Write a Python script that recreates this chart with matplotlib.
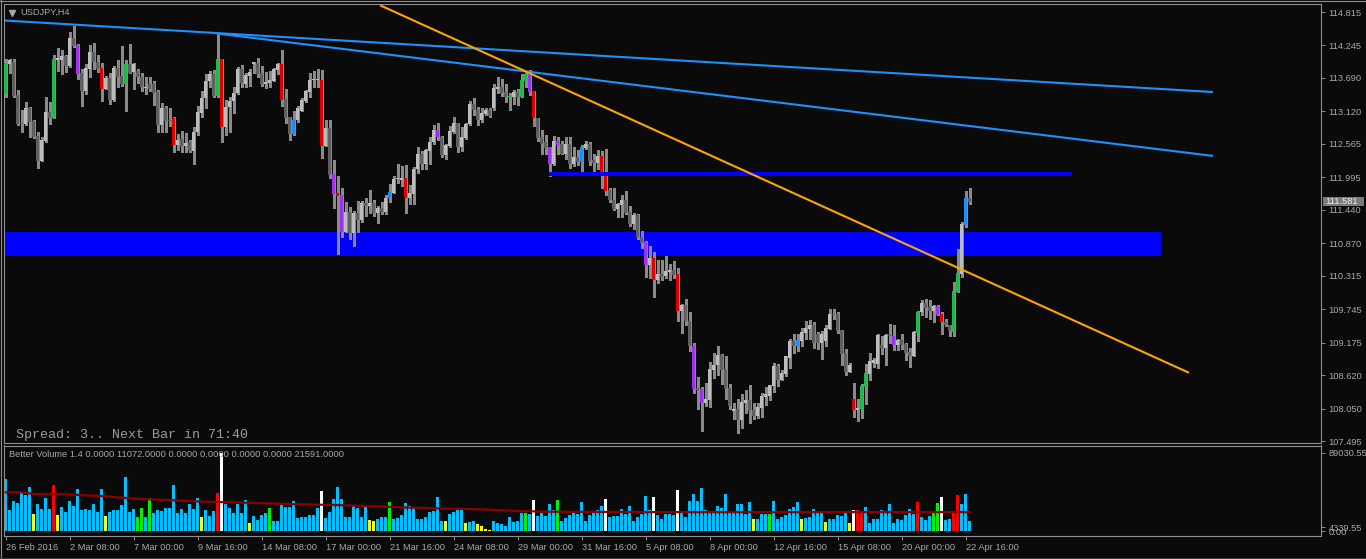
import matplotlib
matplotlib.use("Agg")
import matplotlib.pyplot as plt
from matplotlib.patches import Rectangle
from matplotlib.lines import Line2D
import numpy as np

plt.rcParams['font.family'] = ['Liberation Sans', 'DejaVu Sans']

# ---------------- data ----------------
symbol = "USDJPY,H4"
open_ = [
    113.42, 113.92, 113.96, 113.40, 112.92, 112.90, 113.18, 112.95, 112.70, 112.28,
    112.62, 113.11, 113.01, 114.00, 114.00, 114.06, 113.89, 114.37, 114.25, 113.78,
    113.47, 113.85, 114.13, 113.97, 113.86, 113.51, 113.69, 113.31, 113.86, 113.72,
    113.58, 113.93, 113.79, 113.81, 113.71, 113.52, 113.59, 113.59, 113.45, 112.89,
    113.17, 112.97, 113.00, 112.55, 112.65, 112.53, 112.59, 112.45, 112.76, 113.10,
    113.34, 113.63, 113.76, 113.38, 114.01, 112.85, 113.19, 113.29, 113.43, 113.85,
    113.59, 113.72, 113.93, 113.95, 113.78, 113.59, 113.61, 113.64, 113.83, 113.93,
    113.33, 113.02, 112.73, 112.97, 113.13, 113.29, 113.45, 113.66, 113.66, 113.66,
    112.53, 112.84, 112.05, 111.72, 111.70, 111.07, 111.40, 111.05, 111.38, 111.27,
    111.56, 111.50, 111.56, 111.39, 111.47, 111.40, 111.64, 111.73, 111.96, 111.95,
    111.99, 111.64, 111.71, 112.13, 112.39, 112.22, 112.45, 112.59, 112.81, 112.69,
    112.38, 112.53, 112.77, 112.92, 112.52, 112.67, 112.91, 113.25, 113.15, 112.97,
    113.07, 113.14, 113.18, 113.51, 113.54, 113.45, 113.36, 113.36, 113.45, 113.37,
    113.64, 113.75, 113.46, 113.01, 112.68, 112.60, 112.51, 112.22, 112.61, 112.56,
    112.40, 112.57, 112.22, 112.35, 112.26, 112.50, 112.57, 112.29, 112.24, 112.36,
    112.06, 111.78, 111.61, 111.46, 111.53, 111.60, 111.40, 111.19, 111.36, 110.98,
    110.89, 110.50, 110.61, 110.25, 110.35, 110.31, 110.38, 110.41, 110.35, 109.72,
    109.81, 109.54, 109.12, 108.40, 108.38, 108.15, 108.20, 108.71, 108.79, 108.96,
    108.73, 108.40, 108.00, 108.05, 107.85, 108.15, 108.20, 108.02, 107.93, 108.06,
    108.25, 108.26, 108.43, 108.78, 108.54, 108.64, 108.91, 109.20, 109.12, 109.21,
    109.34, 109.41, 109.47, 109.32, 109.17, 109.21, 109.41, 109.66, 109.66, 109.39,
    109.00, 108.67, 108.22, 108.02, 108.05, 108.42, 108.64, 108.83, 108.81, 109.14,
    109.08, 109.31, 109.29, 109.14, 109.22, 109.15, 109.02, 108.95, 109.34, 109.69,
    109.85, 109.79, 109.72, 109.80, 109.66, 109.53, 109.48, 109.36, 110.04, 110.35,
    111.18, 111.65]
high = [
    114.01, 114.01, 114.01, 113.49, 113.14, 113.28, 113.19, 112.97, 112.76, 112.68,
    113.36, 113.28, 114.09, 114.20, 114.17, 114.09, 114.47, 114.58, 114.27, 113.84,
    113.93, 114.25, 114.28, 114.09, 113.95, 113.72, 113.77, 113.89, 113.99, 114.24,
    114.00, 114.27, 113.95, 113.85, 113.77, 113.70, 113.70, 113.63, 113.49, 113.26,
    113.22, 113.17, 113.02, 112.73, 112.79, 112.75, 112.63, 112.86, 113.21, 113.47,
    113.76, 113.81, 113.83, 114.45, 114.02, 113.31, 113.37, 113.54, 113.88, 113.91,
    113.77, 113.85, 113.96, 114.03, 113.89, 113.80, 113.81, 113.86, 113.95, 114.17,
    113.50, 113.03, 113.13, 113.21, 113.34, 113.49, 113.78, 113.81, 113.85, 113.83,
    112.97, 112.97, 112.29, 112.02, 111.81, 111.57, 111.48, 111.42, 111.59, 111.59,
    111.64, 111.78, 111.61, 111.50, 111.57, 111.70, 111.88, 112.01, 112.22, 112.19,
    112.20, 111.86, 112.17, 112.51, 112.44, 112.48, 112.69, 112.89, 112.92, 112.70,
    112.57, 112.87, 113.02, 112.92, 112.85, 112.92, 113.30, 113.35, 113.20, 113.17,
    113.17, 113.18, 113.58, 113.71, 113.68, 113.58, 113.43, 113.48, 113.51, 113.75,
    113.77, 113.83, 113.46, 113.01, 112.81, 112.71, 112.51, 112.70, 112.68, 112.61,
    112.68, 112.68, 112.51, 112.46, 112.54, 112.62, 112.59, 112.40, 112.46, 112.45,
    112.48, 111.81, 111.81, 111.55, 111.70, 111.77, 111.50, 111.39, 111.37, 111.08,
    110.90, 110.82, 110.72, 110.58, 110.58, 110.65, 110.52, 110.56, 110.44, 109.84,
    109.92, 109.70, 109.16, 108.59, 108.42, 108.48, 108.85, 109.00, 109.12, 108.98,
    108.94, 108.47, 108.14, 108.21, 108.30, 108.37, 108.46, 108.15, 108.15, 108.31,
    108.42, 108.46, 108.82, 108.81, 108.71, 108.95, 109.24, 109.32, 109.32, 109.42,
    109.54, 109.56, 109.53, 109.36, 109.38, 109.48, 109.74, 109.74, 109.69, 109.39,
    109.06, 108.83, 108.48, 108.22, 108.47, 108.81, 108.99, 108.91, 109.33, 109.28,
    109.33, 109.50, 109.47, 109.24, 109.33, 109.16, 109.08, 109.38, 109.71, 109.90,
    109.92, 109.90, 109.81, 109.81, 109.70, 109.58, 109.48, 110.21, 110.77, 111.24,
    111.77, 111.82]
low = [
    113.36, 113.77, 113.36, 112.89, 112.77, 112.89, 112.68, 112.66, 112.16, 112.27,
    112.60, 112.90, 113.01, 113.81, 113.75, 113.79, 113.88, 114.22, 113.68, 113.21,
    113.42, 113.71, 113.85, 113.79, 113.30, 113.50, 113.25, 113.29, 113.54, 113.56,
    113.13, 113.77, 113.51, 113.61, 113.47, 113.41, 113.46, 113.23, 112.77, 112.76,
    112.77, 112.87, 112.43, 112.46, 112.42, 112.43, 112.43, 112.23, 112.71, 113.03,
    113.17, 113.54, 113.36, 113.36, 112.60, 112.71, 112.77, 113.10, 113.42, 113.54,
    113.54, 113.56, 113.77, 113.71, 113.55, 113.52, 113.54, 113.63, 113.75, 113.21,
    112.93, 112.63, 112.72, 112.94, 113.12, 113.28, 113.36, 113.54, 113.54, 112.32,
    112.53, 111.98, 111.47, 110.68, 110.98, 111.07, 110.95, 110.82, 111.06, 111.24,
    111.34, 111.38, 111.34, 111.22, 111.37, 111.37, 111.57, 111.72, 111.90, 111.84,
    111.39, 111.54, 111.54, 112.07, 112.14, 112.14, 112.22, 112.57, 112.63, 112.35,
    112.30, 112.52, 112.75, 112.42, 112.44, 112.65, 112.89, 113.05, 112.89, 112.94,
    113.05, 113.03, 113.14, 113.44, 113.39, 113.28, 113.14, 113.25, 113.23, 113.36,
    113.54, 113.40, 112.87, 112.62, 112.40, 112.39, 112.02, 112.21, 112.39, 112.39,
    112.30, 112.15, 112.19, 112.20, 112.10, 112.47, 112.21, 112.06, 112.14, 111.81,
    111.69, 111.58, 111.43, 111.32, 111.32, 111.37, 111.16, 111.11, 110.94, 110.79,
    110.30, 110.27, 109.96, 110.19, 110.24, 110.27, 110.25, 110.28, 109.55, 109.34,
    109.48, 109.03, 108.31, 108.04, 107.67, 108.10, 108.08, 108.57, 108.63, 108.47,
    108.22, 108.04, 107.88, 107.64, 107.71, 107.97, 107.80, 107.88, 107.89, 107.90,
    108.11, 108.20, 108.33, 108.43, 108.53, 108.61, 108.75, 109.00, 109.04, 109.11,
    109.24, 109.24, 109.08, 109.06, 108.90, 109.11, 109.40, 109.58, 109.34, 108.80,
    108.62, 108.67, 107.91, 107.84, 107.89, 108.13, 108.53, 108.76, 108.74, 108.98,
    108.79, 109.16, 109.05, 109.05, 109.06, 108.88, 108.76, 108.94, 109.21, 109.64,
    109.62, 109.58, 109.52, 109.64, 109.33, 109.45, 109.28, 109.29, 110.04, 110.29,
    111.14, 111.54]
close = [
    113.95, 114.00, 113.38, 112.90, 112.91, 113.18, 112.94, 112.69, 112.28, 112.63,
    113.11, 113.01, 114.01, 114.03, 114.06, 113.89, 114.37, 114.24, 113.76, 113.47,
    113.86, 114.13, 113.96, 113.84, 113.51, 113.69, 113.31, 113.86, 113.71, 113.58,
    113.93, 113.78, 113.93, 113.70, 113.53, 113.53, 113.51, 113.44, 112.89, 113.17,
    112.96, 112.96, 112.55, 112.63, 112.53, 112.58, 112.45, 112.77, 113.11, 113.35,
    113.64, 113.76, 113.38, 114.01, 112.85, 113.19, 113.30, 113.43, 113.85, 113.60,
    113.74, 113.80, 113.96, 113.76, 113.59, 113.62, 113.66, 113.84, 113.93, 113.31,
    113.01, 112.73, 112.98, 113.18, 113.31, 113.47, 113.66, 113.66, 113.66, 112.53,
    112.84, 112.04, 111.71, 111.68, 111.07, 111.40, 111.04, 111.38, 111.27, 111.56,
    111.50, 111.56, 111.39, 111.47, 111.40, 111.65, 111.74, 111.96, 111.96, 111.99,
    111.64, 111.72, 112.14, 112.39, 112.22, 112.46, 112.60, 112.80, 112.69, 112.38,
    112.54, 112.79, 112.92, 112.52, 112.68, 112.91, 113.25, 113.14, 112.97, 113.10,
    113.14, 113.04, 113.52, 113.54, 113.44, 113.36, 113.37, 113.45, 113.37, 113.65,
    113.75, 113.45, 113.00, 112.67, 112.57, 112.50, 112.22, 112.61, 112.55, 112.40,
    112.57, 112.22, 112.34, 112.26, 112.51, 112.57, 112.28, 112.24, 112.36, 112.06,
    111.77, 111.61, 111.46, 111.54, 111.60, 111.39, 111.19, 111.36, 110.97, 110.88,
    110.50, 110.61, 110.25, 110.35, 110.30, 110.40, 110.41, 110.33, 109.72, 109.81,
    109.54, 109.11, 108.39, 108.37, 108.15, 108.21, 108.72, 108.80, 108.96, 108.71,
    108.39, 108.09, 108.05, 107.85, 108.16, 108.20, 108.01, 107.93, 108.07, 108.26,
    108.29, 108.46, 108.78, 108.54, 108.66, 108.94, 109.20, 109.12, 109.22, 109.36,
    109.42, 109.47, 109.17, 109.17, 109.32, 109.42, 109.66, 109.64, 109.38, 108.98,
    108.67, 108.79, 108.02, 108.06, 108.43, 108.65, 108.86, 108.87, 109.30, 109.08,
    109.31, 109.28, 109.14, 109.22, 109.14, 109.00, 108.95, 109.36, 109.70, 109.85,
    109.77, 109.72, 109.80, 109.65, 109.52, 109.47, 109.37, 110.05, 110.36, 111.20,
    111.65, 111.58]
volume = [
    58950, 23580, 33850, 31560, 44500, 41070, 49820, 19020, 30420, 24720,
    38030, 24720, 52100, 17870, 27000, 21300, 33850, 28140, 47540, 23960,
    24720, 23580, 30420, 21680, 47540, 16730, 22060, 23580, 23580, 29280,
    61230, 21300, 25100, 15590, 25860, 15590, 37270, 20160, 23580, 22440,
    25860, 26620, 52100, 20540, 24720, 20540, 30800, 25480, 37270, 15590,
    23580, 16730, 22820, 42970, 89030, 30420, 26620, 20540, 30420, 20540,
    34990, 8750, 16730, 12170, 18250, 20540, 26620, 11410, 11410, 29280,
    27000, 27000, 33850, 14450, 15590, 15590, 17870, 17870, 25860, 45260,
    14450, 21300, 36130, 49820, 36130, 15590, 15590, 28900, 25860, 16350,
    27000, 12170, 11030, 13310, 15970, 15590, 32710, 13310, 14450, 17870,
    31560, 28140, 26620, 13310, 13310, 15590, 21300, 22440, 38410, 11030,
    11030, 19780, 21680, 23960, 23960, 9130, 10270, 11030, 7610, 5320,
    2280, 760, 11030, 8750, 7610, 5320, 15590, 9890, 11030, 20160,
    20160, 19020, 34990, 17110, 20160, 16730, 30420, 24340, 34990, 11030,
    14450, 17870, 20160, 19400, 32710, 11030, 17870, 20160, 23580, 28140,
    36130, 15590, 16730, 16730, 24720, 19020, 28140, 11030, 15590, 19020,
    39550, 23580, 38410, 17870, 13310, 19020, 19020, 17870, 46400, 22440,
    15590, 33850, 41830, 33850, 48680, 23580, 21300, 21300, 28140, 25860,
    41830, 21300, 20160, 30420, 30420, 19020, 32710, 13310, 13310, 19020,
    19020, 19020, 33850, 13310, 15590, 17870, 24720, 27000, 32710, 13310,
    14450, 15590, 24720, 20160, 20160, 9890, 13310, 13310, 17870, 16730,
    22440, 8750, 23580, 23580, 22820, 27000, 8750, 13310, 13310, 23580,
    20160, 30420, 8750, 13310, 12170, 17870, 24720, 19020, 32710, 15590,
    12170, 16730, 21300, 31560, 38410, 12170, 13310, 21300, 40690, 30420,
    41830, 11072]

# candles highlighted by the indicator
candle_green = [0, 12, 30, 53, 126, 129, 130, 214, 215, 228, 237, 238]
candle_red = [24, 42, 54, 69, 79, 83, 100, 132, 149, 150, 162, 168, 212, 234]
candle_purple = [18, 82, 84, 108, 131, 136, 138, 160, 172, 174, 222, 233]
candle_blue = [72, 96, 144, 198, 240]

# volume bar classes
vol_yellow = [7, 13, 25, 49, 61, 91, 92, 110, 115, 118, 119, 120, 121, 187, 199, 205, 211]
vol_green = [33, 34, 36, 66, 96, 130, 138, 191, 232, 233]
vol_red = [12, 53, 213, 214, 228, 237, 238]
vol_white = [54, 79, 132, 150, 162, 168, 212, 234]

# volume moving average (bar, value)
ma_bar = [0, 4, 7, 13, 24, 32, 40, 49, 57, 65, 74, 82, 90, 99, 107, 119, 128, 136, 161, 186, 211, 241]
ma_val = [44160, 44160, 42200, 42200, 39900, 36900, 35400, 33500, 32700, 31600, 30400,
          29700, 28500, 27000, 25900, 24700, 22800, 22000, 21600, 21600, 21600, 21591]

# drawn objects (bar index, price)
trend_blue1 = [(-0.2, 114.67), (301.8, 113.45)]
trend_blue2 = [(52.7, 114.45), (301.8, 112.36)]
trend_orange = [(93.6, 114.93), (295.8, 108.66)]
level_line = (135.8, 266.6, 112.02, 112.085)
zone = (-0.2, 288.8, 110.66, 111.06)

price_ticks = [114.815, 114.245, 113.690, 113.120, 112.565, 111.995, 111.440,
               110.870, 110.315, 109.745, 109.175, 108.620, 108.050, 107.495]
time_tick_bars = [0, 16, 32, 48, 64, 80, 96, 112, 128, 144, 160, 176, 192, 208, 224, 240]
time_tick_labels = ["26 Feb 2016", "2 Mar 08:00", "7 Mar 00:00", "9 Mar 16:00",
                    "14 Mar 08:00", "17 Mar 00:00", "21 Mar 16:00", "24 Mar 08:00",
                    "29 Mar 00:00", "31 Mar 16:00", "5 Apr 08:00", "8 Apr 00:00",
                    "12 Apr 16:00", "15 Apr 08:00", "20 Apr 00:00", "22 Apr 16:00"]
last_price = 111.581
vol_labels = [(0.0, "0.00"), (4339.55, "4339.55"), (89030.55, "89030.55")]
info_text = "Better Volume 1.4 0.0000 11072.0000 0.0000 0.0000 0.0000 0.0000 21591.0000"
spread_text = "Spread: 3.. Next Bar in 71:40"

# ---------------- style ----------------
BG = '#0a0a0a'
FRAME = '#8f8f8f'
TXT = '#a8a8a8'
LIGHT = '#bcbcbc'
DARK = '#5f5f5f'
WICK = '#8a8a8a'
W, H = 1366, 559


def fx(x):
    return x / W


def fy(y):
    return 1 - y / H


fig = plt.figure(figsize=(W / 100, H / 100), dpi=100)
fig.patch.set_facecolor(BG)

ax = fig.add_axes([fx(4), fy(443), (1321 - 4) / W, (443 - 4) / H])
axv = fig.add_axes([fx(4), fy(536), (1321 - 4) / W, (536 - 445.5) / H])

for a in (ax, axv):
    a.set_facecolor(BG)
    for s in a.spines.values():
        s.set_color(FRAME)
        s.set_linewidth(0.8)

n = len(close)
idx = np.arange(n)
o = np.array(open_)
c = np.array(close)
hi = np.array(high)
lo = np.array(low)

ax.set_xlim(-0.43, 328.8)
ax.set_ylim(107.462, 114.952)

# zone rectangle (behind candles)
ax.add_patch(Rectangle((zone[0], zone[2]), zone[1] - zone[0], zone[3] - zone[2],
                       facecolor='#0000ff', edgecolor='none', zorder=1, antialiased=False))

special = {}
for k in candle_green:
    special[k] = '#1fb84a'
for k in candle_red:
    special[k] = '#e00000'
for k in candle_purple:
    special[k] = '#a030f0'
for k in candle_blue:
    special[k] = '#1e8cff'
body_col = [special.get(k, LIGHT if c[k] >= o[k] else DARK) for k in idx]

ax.vlines(idx, lo, hi, colors=WICK, linewidth=0.75, zorder=2, antialiased=False)
heights = np.maximum(np.abs(c - o), 0.018)
bottoms = np.minimum(o, c)
ax.bar(idx, heights, bottom=bottoms, width=0.75, color=body_col, linewidth=0,
       zorder=3, antialiased=False)

# lines on top
for (p0, p1), col in ((trend_blue1, '#1e90ff'), (trend_blue2, '#1e90ff'),
                      (trend_orange, '#ffa500')):
    ax.plot([p0[0], p1[0]], [p0[1], p1[1]], color=col, linewidth=1.5, zorder=5,
            solid_capstyle='butt')
ax.add_patch(Rectangle((level_line[0], level_line[2]), level_line[1] - level_line[0],
                       level_line[3] - level_line[2], facecolor='#0000ff',
                       edgecolor='none', zorder=4, antialiased=False))

ax.set_xticks([])
ax.yaxis.tick_right()
ax.set_yticks(price_ticks)
ax.set_yticklabels([f"{p:.3f}" for p in price_ticks])
ax.tick_params(axis='y', colors=FRAME, labelcolor=TXT, labelsize=6.7, length=3,
               width=0.7, pad=2.5, direction='out')

# ---------------- volume panel ----------------
vclass = {}
for k in vol_yellow:
    vclass[k] = '#ffff00'
for k in vol_green:
    vclass[k] = '#00f000'
for k in vol_red:
    vclass[k] = '#ff0000'
for k in vol_white:
    vclass[k] = '#ffffff'
vcol = [vclass.get(k, '#00bfff') for k in idx]

axv.set_xlim(-0.43, 328.8)
axv.set_ylim(-5705, 97556)
axv.bar(idx, volume, width=0.72, color=vcol, linewidth=0, antialiased=False, zorder=2)
axv.plot(ma_bar, ma_val, color='#8b0000', linewidth=1.6, zorder=3)

axv.set_xticks(time_tick_bars)
axv.set_xticklabels(time_tick_labels, ha='left')
axv.tick_params(axis='x', colors=FRAME, labelcolor=TXT, labelsize=6.7, length=3,
                width=0.7, pad=2.0, direction='out')
for lab in axv.get_xticklabels():
    lab.set_x(lab.get_position()[0])
axv.yaxis.tick_right()
axv.set_yticks([v for v, _ in vol_labels])
axv.set_yticklabels([t for _, t in vol_labels])
axv.tick_params(axis='y', colors=FRAME, labelcolor=TXT, labelsize=6.7, length=3,
                width=0.7, pad=2.5, direction='out')

fig.text(fx(9), fy(454.5), info_text, color=TXT, fontsize=6.7, va='center', ha='left')

# ---------------- chart texts ----------------
fig.add_artist(Line2D([fx(11.5)], [fy(12.6)], marker='v', markersize=4.2,
                      color=TXT, linestyle='none', transform=fig.transFigure))
fig.text(fx(20), fy(12.5), symbol, color=TXT, fontsize=6.7, va='center', ha='left')
fig.text(fx(16), fy(435), spread_text, color='#9a9a9a', fontsize=9.6,
         family=['Liberation Mono', 'DejaVu Sans Mono'], va='center', ha='left')

# current price label
fig.add_artist(Rectangle((fx(1323), fy(206.5)), 41 / W, 9.5 / H, transform=fig.transFigure,
                         facecolor='#7a7a7a', edgecolor='none', zorder=5))
fig.text(fx(1325), fy(201.5), f"{last_price:.3f}", color='#f0f0f0', fontsize=6.7,
         va='center', ha='left', zorder=6)

# window frame lines
fig.add_artist(Line2D([fx(0.5), fx(0.5)], [fy(0), fy(559)], color=FRAME, lw=0.8,
                      transform=fig.transFigure))
fig.add_artist(Line2D([fx(0), fx(1366)], [fy(0.5), fy(0.5)], color=FRAME, lw=0.8,
                      transform=fig.transFigure))
fig.add_artist(Line2D([fx(0), fx(1366)], [fy(557.5), fy(557.5)], color='#3a3a3a', lw=0.8,
                      transform=fig.transFigure))

fig.savefig('out.png', dpi=100, facecolor=BG)
